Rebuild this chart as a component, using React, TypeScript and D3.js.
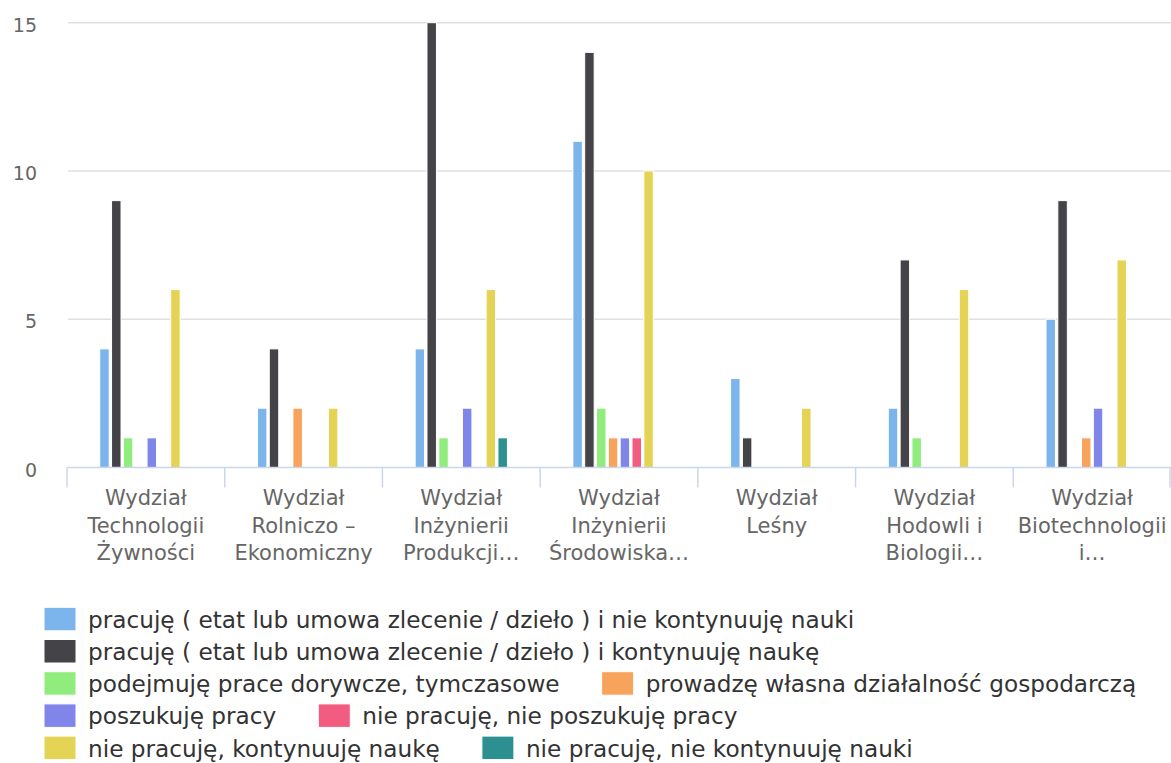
import React, { useEffect, useRef } from 'react';
import * as d3 from 'd3';

// category tick labels, already wrapped the way the chart shows them
const categoryLines = [
  ['Wydział', 'Technologii', 'Żywności'],
  ['Wydział', 'Rolniczo –', 'Ekonomiczny'],
  ['Wydział', 'Inżynierii', 'Produkcji…'],
  ['Wydział', 'Inżynierii', 'Środowiska…'],
  ['Wydział', 'Leśny'],
  ['Wydział', 'Hodowli i', 'Biologii…'],
  ['Wydział', 'Biotechnologii', 'i…'],
];

const seriesNames = [
  'pracuję ( etat lub umowa zlecenie / dzieło ) i nie kontynuuję nauki',
  'pracuję ( etat lub umowa zlecenie / dzieło ) i kontynuuję naukę',
  'podejmuję prace dorywcze, tymczasowe',
  'prowadzę własna działalność gospodarczą',
  'poszukuję pracy',
  'nie pracuję, nie poszukuję pracy',
  'nie pracuję, kontynuuję naukę',
  'nie pracuję, nie kontynuuję nauki',
];

const seriesColors = ['#7cb5ec', '#434348', '#90ed7d', '#f7a35c', '#8085e9', '#f15c80', '#e4d354', '#2b908f'];

const workNoStudy = [4, 2, 4, 11, 3, 2, 5];
const workAndStudy = [9, 4, 15, 14, 1, 7, 9];
const casualWork = [1, 0, 1, 2, 0, 1, 0];
const ownBusiness = [0, 2, 0, 1, 0, 0, 1];
const lookingForWork = [1, 0, 2, 1, 0, 0, 2];
const notWorkingNotLooking = [0, 0, 0, 1, 0, 0, 0];
const studyOnly = [6, 2, 6, 10, 2, 6, 7];
const idle = [0, 0, 1, 0, 0, 0, 0];

const seriesValues = [workNoStudy, workAndStudy, casualWork, ownBusiness, lookingForWork, notWorkingNotLooking, studyOnly, idle];

const yTicks = [0, 5, 10, 15];

const App: React.FC = () => {
  const svgRef = useRef<SVGSVGElement | null>(null);

  useEffect(() => {
    const svg = d3.select(svgRef.current);
    svg.selectAll('*').remove();
    const width = 1171;
    const font = '"DejaVu Sans", Verdana, sans-serif';

    const left = 67;
    const right = 1171;
    const top = 22.7;
    const bottom = 467.5;

    const x = d3.scaleBand<number>()
      .domain(d3.range(categoryLines.length))
      .range([left, right])
      .paddingInner(0)
      .paddingOuter(0);
    const bw = x.bandwidth();

    // series slots inside the group (group padding 0.2 on each side)
    const xs = d3.scaleBand<number>()
      .domain(d3.range(seriesNames.length))
      .range([bw * 0.2, bw * 0.8])
      .paddingInner(0.2)
      .paddingOuter(0.1);

    const y = d3.scaleLinear().domain([0, 15]).range([bottom, top]);

    svg.append('rect').attr('width', width).attr('height', 763).attr('fill', '#fff');

    // grid lines
    svg.append('g')
      .selectAll('line')
      .data(yTicks.filter(t => t > 0))
      .enter()
      .append('line')
      .attr('x1', left + 1)
      .attr('x2', right)
      .attr('y1', d => y(d))
      .attr('y2', d => y(d))
      .attr('stroke', '#e0e0e0')
      .attr('stroke-width', 1.5);

    // y labels
    svg.append('g')
      .selectAll('text')
      .data(yTicks)
      .enter()
      .append('text')
      .attr('x', 37)
      .attr('y', d => y(d) + 9)
      .attr('text-anchor', 'end')
      .attr('font-family', font)
      .attr('font-size', 19)
      .attr('fill', '#666')
      .text(d => d);

    // bars (zero values are not drawn)
    seriesValues.forEach((vals, si) => {
      const pts = vals.map((v, ci) => ({ v, ci })).filter(p => p.v > 0);
      svg.append('g')
        .selectAll('rect')
        .data(pts)
        .enter()
        .append('rect')
        .attr('x', p => (x(p.ci) as number) + (xs(si) as number))
        .attr('y', p => y(p.v))
        .attr('width', xs.bandwidth())
        .attr('height', p => bottom - y(p.v))
        .attr('fill', seriesColors[si])
        .attr('stroke', '#fff')
        .attr('stroke-width', 1);
    });

    // x axis line + ticks
    svg.append('line')
      .attr('x1', left)
      .attr('x2', right)
      .attr('y1', bottom)
      .attr('y2', bottom)
      .attr('stroke', '#ccd6eb')
      .attr('stroke-width', 1.5);

    svg.append('g')
      .selectAll('line')
      .data(d3.range(categoryLines.length + 1))
      .enter()
      .append('line')
      .attr('x1', i => Math.min(left + i * bw, right - 1))
      .attr('x2', i => Math.min(left + i * bw, right - 1))
      .attr('y1', bottom)
      .attr('y2', bottom + 20)
      .attr('stroke', '#ccd6eb')
      .attr('stroke-width', 1.5);

    // x labels
    const labels = svg.append('g')
      .selectAll('text')
      .data(categoryLines)
      .enter()
      .append('text')
      .attr('x', (d, i) => (x(i) as number) + bw / 2)
      .attr('y', 505)
      .attr('text-anchor', 'middle')
      .attr('font-family', font)
      .attr('font-size', 21)
      .attr('fill', '#666');
    labels.each(function (lines) {
      const t = d3.select(this);
      const cx = t.attr('x');
      lines.forEach((ln, li) => {
        t.append('tspan').attr('x', cx).attr('dy', li === 0 ? 0 : 27.5).text(ln);
      });
    });

    // legend, flowed like the original
    const legend = svg.append('g');
    const symW = 32;
    const symH = 23.5;
    const textGap = 12;
    const itemGap = 42;
    const startX = 44;
    const maxRight = 1160;
    let cx = startX;
    let rowTop = 607.3;
    seriesNames.forEach((name, i) => {
      const g = legend.append('g');
      const txt = g.append('text')
        .attr('font-family', font)
        .attr('font-size', 23.2)
        .attr('fill', '#333')
        .text(name);
      const tw = (txt.node() as SVGTextElement).getComputedTextLength();
      const itemW = symW + textGap + tw;
      if (cx > startX && cx + itemW > maxRight) {
        cx = startX;
        rowTop += 32.2;
      }
      g.append('rect')
        .attr('x', cx)
        .attr('y', rowTop)
        .attr('width', symW)
        .attr('height', symH)
        .attr('fill', seriesColors[i])
        .attr('stroke', '#fff')
        .attr('stroke-width', 1);
      txt.attr('x', cx + symW + textGap).attr('y', rowTop + 20.5);
      cx += itemW + itemGap;
    });
  }, []);

  return (
    <div style={{ width: 1171, height: 763 }}>
      <style>{'body{margin:0;}'}</style>
      <svg ref={svgRef} width={1171} height={763} style={{ display: 'block' }} />
    </div>
  );
};

export default App;
